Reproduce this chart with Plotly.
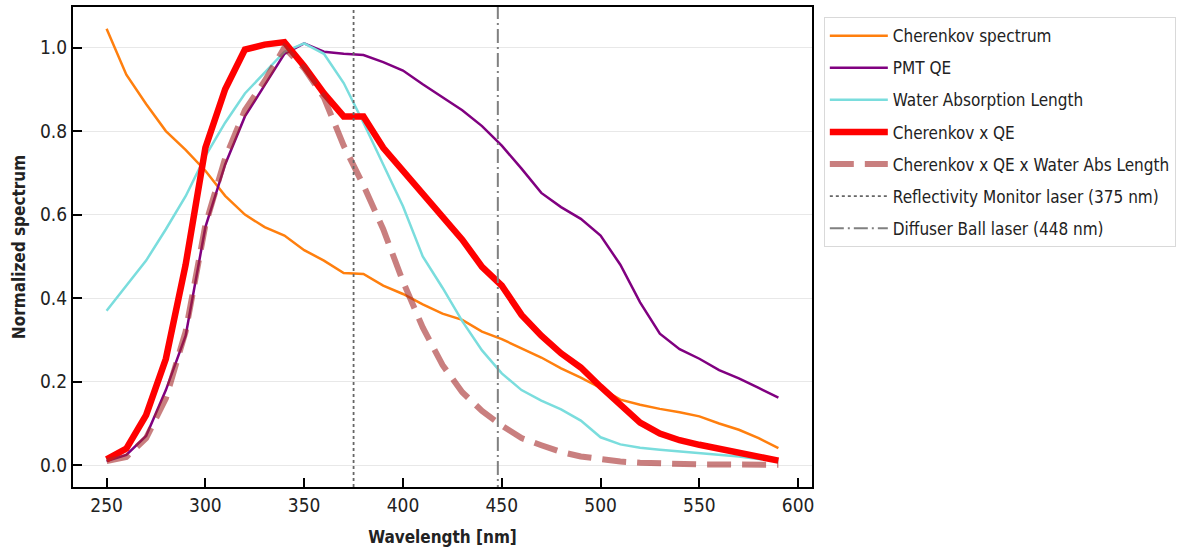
import plotly.graph_objects as go

wavelength = list(range(250, 600, 10))

cherenkov = [1.045, 0.935, 0.865, 0.80, 0.755, 0.705, 0.645, 0.60, 0.57, 0.55,
             0.515, 0.49, 0.46, 0.458, 0.43, 0.41, 0.385, 0.363, 0.348, 0.32,
             0.302, 0.28, 0.258, 0.232, 0.21, 0.185, 0.157, 0.145, 0.135, 0.127,
             0.117, 0.100, 0.085, 0.065, 0.041]

pmt_qe = [0.01, 0.025, 0.07, 0.18, 0.31, 0.57, 0.72, 0.835, 0.91, 0.985,
          1.01, 0.99, 0.985, 0.982, 0.965, 0.945, 0.912, 0.88, 0.85, 0.812,
          0.765, 0.71, 0.652, 0.618, 0.59, 0.55, 0.48, 0.39, 0.315, 0.278,
          0.255, 0.228, 0.208, 0.185, 0.162]

water_abs = [0.37, 0.43, 0.49, 0.565, 0.644, 0.74, 0.82, 0.89, 0.94, 0.99,
             1.01, 0.985, 0.915, 0.82, 0.72, 0.62, 0.50, 0.425, 0.345, 0.275,
             0.22, 0.18, 0.155, 0.134, 0.107, 0.067, 0.05, 0.042, 0.037, 0.033,
             0.029, 0.025, 0.021, 0.015, 0.01]

cher_x_qe = [0.014, 0.04, 0.12, 0.255, 0.48, 0.76, 0.90, 0.995, 1.007, 1.013,
             0.955, 0.89, 0.835, 0.835, 0.76, 0.705, 0.65, 0.59, 0.54, 0.475,
             0.43, 0.36, 0.31, 0.268, 0.234, 0.188, 0.143, 0.102, 0.076, 0.06,
             0.049, 0.04, 0.029, 0.02, 0.011]

cher_x_qe_x_water = [0.01, 0.02, 0.065, 0.16, 0.32, 0.575, 0.735, 0.85, 0.92, 1.0,
                     0.95, 0.88, 0.765, 0.67, 0.565, 0.44, 0.33, 0.24, 0.175, 0.13,
                     0.095, 0.065, 0.048, 0.032, 0.021, 0.014, 0.009, 0.006, 0.004, 0.003,
                     0.002, 0.002, 0.001, 0.001, 0.001]

laser_names = ["Reflectivity Monitor laser (375 nm)", "Diffuser Ball laser (448 nm)"]
laser_wavelengths = [375, 448]

X_RANGE = [233, 607]
Y_RANGE = [-0.052, 1.097]

FONT = "DejaVu Sans Condensed, Roboto, sans-serif"

fig = go.Figure()

fig.add_trace(go.Scatter(x=wavelength, y=cherenkov, mode="lines", name="Cherenkov spectrum",
                         legendgroup="a", line=dict(color="#ff7f0e", width=2.5)))
fig.add_trace(go.Scatter(x=wavelength, y=pmt_qe, mode="lines", name="PMT QE",
                         legendgroup="b", line=dict(color="#800080", width=2.5)))
fig.add_trace(go.Scatter(x=wavelength, y=water_abs, mode="lines", name="Water Absorption Length",
                         legendgroup="c", line=dict(color="rgb(122,221,221)", width=2.5)))
fig.add_trace(go.Scatter(x=wavelength, y=cher_x_qe, mode="lines", name="Cherenkov x QE",
                         legendgroup="d", line=dict(color="#ff0000", width=6.5)))
fig.add_trace(go.Scatter(x=wavelength, y=cher_x_qe_x_water, mode="lines",
                         name="Cherenkov x QE x Water Abs Length", legendgroup="e",
                         line=dict(color="rgba(165,42,42,0.6)", width=6, dash="24px,11px")))
fig.add_trace(go.Scatter(x=[laser_wavelengths[0]] * 2, y=[-1, 2], mode="lines", name=laser_names[0],
                         legendgroup="f", line=dict(color="#666666", width=1.8, dash="dot")))
fig.add_trace(go.Scatter(x=[laser_wavelengths[1]] * 2, y=[-1, 2], mode="lines", name=laser_names[1],
                         legendgroup="g", line=dict(color="#808080", width=2, dash="14px,4px,2px,4px")))

fig.update_layout(
    width=1190, height=552,
    margin=dict(l=73, r=378, t=5, b=65),
    paper_bgcolor="white", plot_bgcolor="white",
    font=dict(family=FONT, size=17, color="#222222"),
    showlegend=True,
    legend=dict(x=1.016, y=0.979, xanchor="left", yanchor="top",
                bordercolor="#d9d9d9", borderwidth=1, bgcolor="white",
                font=dict(family=FONT, size=17, color="#222222"),
                tracegroupgap=7, itemwidth=58),
)

fig.update_xaxes(range=X_RANGE, tickvals=list(range(250, 601, 50)),
                 tickfont=dict(size=19),
                 ticks="inside", ticklen=9, tickwidth=1.5, tickcolor="black",
                 showline=True, linecolor="black", linewidth=2, mirror=True,
                 showgrid=False, zeroline=False,
                 title=dict(text="<b>Wavelength [nm]</b>", font=dict(family=FONT, size=17), standoff=16))
fig.update_yaxes(range=Y_RANGE, tickvals=[0, 0.2, 0.4, 0.6, 0.8, 1.0], tickformat=".1f",
                 tickfont=dict(size=19),
                 ticks="inside", ticklen=9, tickwidth=1.5, tickcolor="black",
                 showline=True, linecolor="black", linewidth=2, mirror=True,
                 showgrid=True, gridcolor="#e8e8e8", gridwidth=1, zeroline=False,
                 title=dict(text="<b>Normalized spectrum</b>", font=dict(family=FONT, size=17), standoff=10))

fig.write_html("out.html")
